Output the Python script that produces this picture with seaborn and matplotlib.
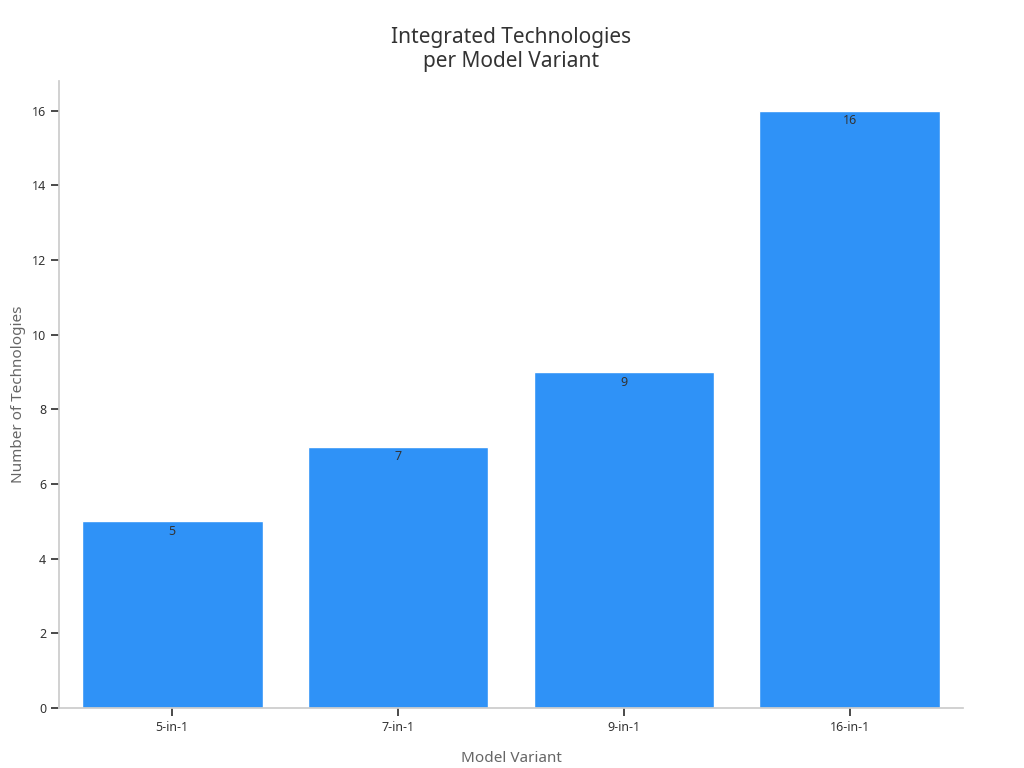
import matplotlib
matplotlib.use("Agg")
import matplotlib.pyplot as plt
import seaborn as sns
import pandas as pd

categories = ["5-in-1", "7-in-1", "9-in-1", "16-in-1"]
values = [5, 7, 9, 16]

sns.set_theme(style="ticks")
plt.rcParams['font.family'] = ['Noto Sans', 'DejaVu Sans']
fig, ax = plt.subplots(figsize=(10.24, 7.68), dpi=100)
df = pd.DataFrame({"Model Variant": categories, "Number of Technologies": values})
sns.barplot(data=df, x="Model Variant", y="Number of Technologies", color="#2f92f7",
            saturation=1, width=0.8, edgecolor="white", linewidth=1, ax=ax)
for i, v in enumerate(values):
    ax.text(i, v - 0.1, str(v), ha="center", va="top", fontsize=9, color="#333333")
ax.set_ylim(0, 16.8)
ax.set_yticks(range(0, 17, 2))
ax.set_title("Integrated Technologies\nper Model Variant", fontsize=15, color="#333333", pad=10)
ax.set_xlabel("Model Variant", fontsize=11, color="#666666", labelpad=12)
ax.set_ylabel("Number of Technologies", fontsize=11, color="#666666")
ax.tick_params(labelsize=9, colors="#333333")
for s in ["top", "right"]:
    ax.spines[s].set_visible(False)
for s in ["left", "bottom"]:
    ax.spines[s].set_color("#cccccc")
plt.subplots_adjust(left=0.058, right=0.94, top=0.895, bottom=0.078)
fig.savefig("out.png", dpi=100)
